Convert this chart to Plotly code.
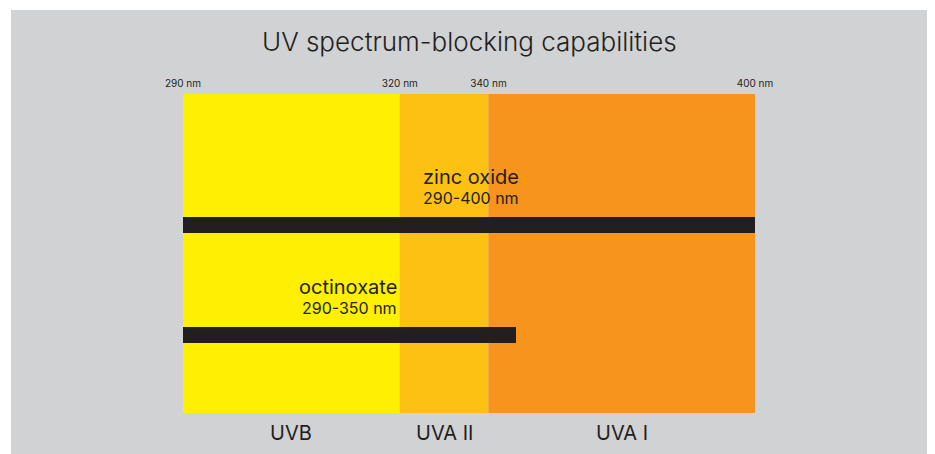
import numpy as np
import plotly.graph_objects as go

# ---------------- data ----------------
title_text = "UV spectrum-blocking capabilities"

band_names = ["UVB", "UVA II", "UVA I"]
band_start_nm = [290, 320, 340]
band_end_nm = [320, 340, 400]

compounds = ["zinc oxide", "octinoxate"]
compound_start_nm = [290, 290]
compound_end_nm = [400, 350]

tick_nm = [290, 320, 340, 400]
tick_labels = ["290 nm", "320 nm", "340 nm", "400 nm"]

# ---------------- style ----------------
band_colors = ["#FFEF00", "#FDC114", "#F7941E"]
bar_color = "#231F20"
text_color = "#231F20"
bg_grey = "#D1D2D4"
FONT = "Inter, Liberation Sans, Arial, sans-serif"

# The original is an illustrative (non-uniform) wavelength scale.
# Piecewise display scale: nm -> percent of axis width.
SCALE_NM = [290, 320, 340, 350, 400]
SCALE_POS = [0.0, 37.9, 53.4, 58.3, 100.0]


def scale(nm):
    return np.interp(nm, SCALE_NM, SCALE_POS)


fig = go.Figure()

# thin white border at top/left of the grey card
fig.add_shape(type="rect", xref="paper", yref="paper",
              x0=-0.5, x1=-0.3007, y0=-0.5, y1=1.6,
              fillcolor="white", line_width=0, layer="below")
fig.add_shape(type="rect", xref="paper", yref="paper",
              x0=-0.5, x1=1.6, y0=1.2633, y1=1.6,
              fillcolor="white", line_width=0, layer="below")

# spectrum bands
for s, e, c in zip(band_start_nm, band_end_nm, band_colors):
    fig.add_shape(type="rect", xref="x", yref="paper",
                  x0=scale(s), x1=scale(e), y0=0, y1=1,
                  fillcolor=c, line_width=0, layer="below")

# compound bars
fig.add_trace(go.Bar(
    orientation="h",
    y=compounds,
    base=[scale(s) for s in compound_start_nm],
    x=[scale(e) - scale(s) for s, e in zip(compound_start_nm, compound_end_nm)],
    width=0.145,
    marker=dict(color=bar_color, line_width=0),
    hoverinfo="skip",
    showlegend=False,
))

# compound labels
label_cfg = {
    "zinc oxide": dict(x=scale(320), xanchor="left", xshift=21),
    "octinoxate": dict(x=scale(320), xanchor="right", xshift=-1),
}
for name, s, e in zip(compounds, compound_start_nm, compound_end_nm):
    cfg = label_cfg[name]
    fig.add_annotation(x=cfg["x"], y=name, xref="x", yref="y",
                       text=name, showarrow=False,
                       xanchor=cfg["xanchor"], xshift=cfg["xshift"],
                       yanchor="middle", yshift=48,
                       font=dict(family=FONT, size=20, color=text_color))
    fig.add_annotation(x=cfg["x"], y=name, xref="x", yref="y",
                       text=f"{s}-{e} nm", showarrow=False,
                       xanchor=cfg["xanchor"], xshift=cfg["xshift"],
                       yanchor="middle", yshift=27,
                       font=dict(family=FONT, size=16, color=text_color))

# band names below
for name, s, e in zip(band_names, band_start_nm, band_end_nm):
    fig.add_annotation(x=(scale(s) + scale(e)) / 2, y=0, xref="x", yref="paper",
                       text=name, showarrow=False, yanchor="middle", yshift=-20,
                       font=dict(family=FONT, size=20, color=text_color))

# title
fig.add_annotation(x=0.5017, y=1.166, xref="paper", yref="paper",
                   text=title_text, showarrow=False,
                   xanchor="center", yanchor="middle",
                   font=dict(family=FONT, size=26, color=text_color, weight=300))

fig.update_xaxes(range=[0, 100], side="top",
                 tickvals=[scale(t) for t in tick_nm], ticktext=tick_labels,
                 showgrid=False, zeroline=False, showline=False, ticks="",
                 ticklabelstandoff=4,
                 tickfont=dict(family=FONT, size=10, color=text_color),
                 fixedrange=True)
fig.update_yaxes(type="category", categoryarray=["octinoxate", "zinc oxide"],
                 range=[-0.709, 2.19], visible=False, fixedrange=True)

# page body adds an 8px offset; size the figure so it fits the window
fig.update_layout(
    width=940, height=446,
    margin=dict(l=175, r=193, t=86, b=41),
    paper_bgcolor=bg_grey, plot_bgcolor="rgba(0,0,0,0)",
    showlegend=False, bargap=0,
)

fig.write_html("out.html", config={"displayModeBar": False})
